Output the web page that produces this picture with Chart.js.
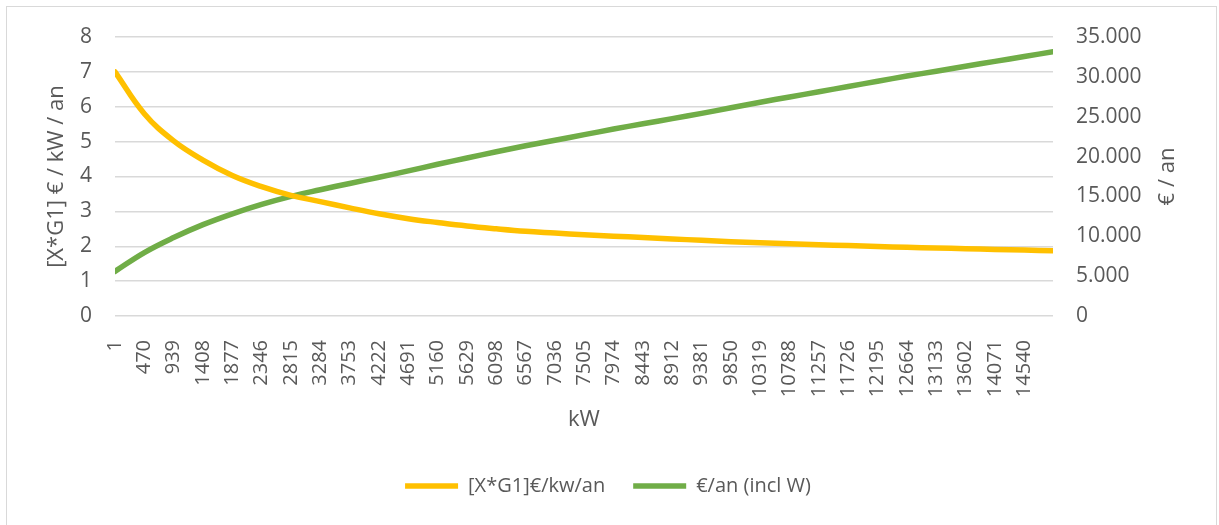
<!DOCTYPE html>
<html>
<head>
<meta charset="utf-8">
<script src="https://cdn.jsdelivr.net/npm/chart.js@4"></script>
<style>
html,body{margin:0;padding:0;background:#fff;}
#wrap{position:relative;width:1219px;height:525px;overflow:hidden;background:#fff;}
#frame{position:absolute;left:6px;top:6px;width:1211px;height:560px;border:1px solid #d9d9d9;box-sizing:border-box;}
canvas{position:absolute;left:0;top:0;}
</style>
</head>
<body>
<div id="wrap"><div id="frame"></div><canvas id="c" width="1219" height="525"></canvas></div>
<script>
// kW values at which the curves were read (tick positions + end of series)
const kwValues = [1,470,939,1408,1877,2346,2815,3284,3753,4222,4691,5160,5629,6098,6567,7036,7505,7974,8443,8912,9381,9850,10319,10788,11257,11726,12195,12664,13133,13602,14071,14540,15000];
// category tick labels shown on the x axis
const xTickLabels = [1,470,939,1408,1877,2346,2815,3284,3753,4222,4691,5160,5629,6098,6567,7036,7505,7974,8443,8912,9381,9850,10319,10788,11257,11726,12195,12664,13133,13602,14071,14540];
// [X*G1] €/kW/an (left axis)
const perKwValues = [7.00,5.80,5.02,4.47,4.03,3.71,3.46,3.28,3.10,2.93,2.79,2.68,2.58,2.50,2.43,2.38,2.33,2.29,2.25,2.21,2.17,2.13,2.10,2.07,2.04,2.02,1.99,1.97,1.95,1.93,1.91,1.89,1.87];
// €/an (incl W) (right axis)
const perYearValues = [5600,7960,9840,11460,12820,14000,15010,15840,16630,17410,18200,19030,19820,20610,21350,22050,22750,23450,24110,24760,25420,26120,26820,27480,28130,28790,29440,30100,30710,31330,31940,32550,33160];

const seriesNames = ['[X*G1]€/kw/an', '€/an (incl W)'];
const leftTitle = '[X*G1] € / kW / an';
const rightTitle = '€ / an';
const xTitle = 'kW';

const FONT = "'Open Sans', sans-serif";
const TEXT = '#595959';
const YELLOW = '#FFC000';
const GREEN = '#70AD47';

const fmtThousands = v => String(v).replace(/\B(?=(\d{3})+(?!\d))/g, '.');

const rightTitlePlugin = {
  id: 'rightTitle',
  afterDraw(chart) {
    const {ctx, chartArea} = chart;
    ctx.save();
    ctx.font = '22px ' + FONT;
    ctx.fillStyle = TEXT;
    ctx.textAlign = 'center';
    ctx.textBaseline = 'middle';
    ctx.translate(1168, (chartArea.top + chartArea.bottom) / 2);
    ctx.rotate(-Math.PI / 2);
    ctx.fillText(rightTitle, 0, 0);
    ctx.restore();
  }
};

new Chart(document.getElementById('c'), {
  type: 'line',
  data: {
    datasets: [
      {
        label: seriesNames[0],
        data: kwValues.map((x, i) => ({x, y: perKwValues[i]})),
        yAxisID: 'y',
        borderColor: YELLOW, backgroundColor: YELLOW,
        borderWidth: 5.5, pointRadius: 0,
        tension: 0.4,
        borderCapStyle: 'round', borderJoinStyle: 'round'
      },
      {
        label: seriesNames[1],
        data: kwValues.map((x, i) => ({x, y: perYearValues[i]})),
        yAxisID: 'y2',
        borderColor: GREEN, backgroundColor: GREEN,
        borderWidth: 5.5, pointRadius: 0,
        tension: 0.4,
        borderCapStyle: 'round', borderJoinStyle: 'round'
      }
    ]
  },
  options: {
    responsive: false,
    animation: false,
    layout: {padding: {left: 10, right: 13, top: 37, bottom: 19}},
    plugins: {
      legend: {
        position: 'bottom',
        labels: {
          usePointStyle: true, pointStyle: 'line', pointStyleWidth: 53,
          font: {family: FONT, size: 20}, color: TEXT, padding: 28
        }
      },
      tooltip: {enabled: false}
    },
    scales: {
      x: {
        type: 'linear', min: 1, max: 15000,
        afterBuildTicks: s => { s.ticks = xTickLabels.map(v => ({value: v})); },
        afterFit: s => { s.height = 132; },
        grid: {display: false, drawTicks: false},
        border: {display: false},
        ticks: {
          autoSkip: false, minRotation: 90, maxRotation: 90, padding: 24,
          font: {family: FONT, size: 20}, color: TEXT,
          callback: v => String(v)
        },
        title: {display: true, text: xTitle, font: {family: FONT, size: 22}, color: TEXT, padding: {top: 0, bottom: 15}}
      },
      y: {
        position: 'left', min: 0, max: 8,
        afterFit: s => { s.width = 105; },
        ticks: {stepSize: 1, padding: 23, font: {family: FONT, size: 21}, color: TEXT},
        grid: {color: '#d9d9d9', lineWidth: 1.5, drawTicks: false},
        border: {display: false},
        title: {display: true, text: leftTitle, font: {family: FONT, size: 22}, color: TEXT, padding: {top: 34, bottom: 0}}
      },
      y2: {
        position: 'right', min: 0, max: 35000,
        afterFit: s => { s.width = 153; },
        ticks: {stepSize: 5000, padding: 23, font: {family: FONT, size: 21}, color: TEXT, callback: v => fmtThousands(v)},
        grid: {display: false, drawTicks: false},
        border: {display: false}
      }
    }
  },
  plugins: [rightTitlePlugin]
});
</script>
</body>
</html>
